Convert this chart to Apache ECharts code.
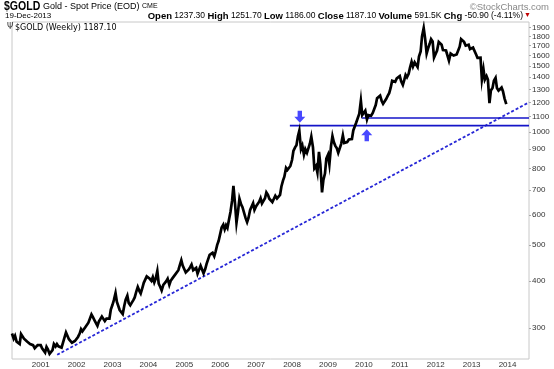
<!DOCTYPE html>
<html><head><meta charset="utf-8">
<script src="https://cdn.jsdelivr.net/npm/echarts@6/dist/echarts.min.js"></script>
<style>html,body{margin:0;padding:0;background:#fff}#c{width:554px;height:369px}</style>
</head><body><div id="c"></div>
<script>
// Half-monthly estimates (1st and 15th of each month) of $GOLD weekly price
const g2000 = [290,281,286,276,274,272,289,291,281,279,276,277,272,273,270,265,267,270,273]; // starts Mar 15
const g2001 = [270,265,264,258,267,263,256,258,262,272,268,272,268,266,266,274,273,292,290,280,279,274,272,277];
const g2002 = [279,284,290,298,294,292,302,303,310,313,326,321,315,318,304,312,313,322,322,313,318,320,318,336];
const g2003 = [346,356,372,352,349,335,331,327,344,357,366,350,345,350,356,362,376,386,377,371,384,396,400,412];
const g2004 = [416,406,401,410,397,406,426,394,386,378,391,393,400,406,391,401,407,404,417,421,428,441,455,440];
const g2005 = [438,422,421,430,436,443,428,430,434,419,420,440,429,420,431,445,446,470,471,476,466,480,500,512];
const g2006 = [518,556,566,550,564,555,586,612,655,718,640,572,614,664,641,630,624,590,575,590,620,626,646,620];
const g2007 = [634,630,652,666,645,650,666,690,680,664,665,650,655,676,665,662,680,716,742,760,802,792,800,812];
const g2008 = [842,890,910,922,975,1008,900,920,870,900,880,890,932,972,910,800,812,780,885,820,690,745,775,850];
const g2009 = [870,820,920,975,940,920,905,880,888,930,980,935,935,940,955,945,958,1010,1000,1060,1050,1120,1212,1110];
const g2010 = [1100,1140,1080,1110,1122,1105,1125,1150,1180,1230,1220,1250,1210,1190,1185,1225,1250,1270,1315,1370,1355,1362,1390,1385];
const g2011 = [1410,1365,1335,1375,1420,1400,1430,1485,1540,1495,1535,1530,1490,1590,1640,1800,1895,1780,1620,1670,1720,1770,1745,1580];
const g2012 = [1570,1650,1740,1725,1710,1655,1665,1650,1655,1550,1620,1620,1600,1590,1610,1615,1690,1770,1780,1740,1700,1720,1710,1665];
const g2013 = [1665,1680,1665,1610,1578,1595,1580,1380,1470,1380,1410,1380,1195,1290,1310,1370,1395,1310,1290,1275,1315,1285,1230];
const lastPoint = ['2013-12-19', 1187.10];

const yTicks = [300,400,500,600,700,800,900,1000,1100,1200,1300,1400,1500,1600,1700,1800,1900];
const yearTicks = ['2001','2002','2003','2004','2005','2006','2007','2008','2009','2010','2011','2012','2013','2014'];

const trendLine = [['2001-06-17', 254.5], ['2014-08-07', 1200]];
const resistLow = [['2007-12-10', 1040], ['2014-08-07', 1040]];
const resistHigh = [['2009-12-11', 1090], ['2014-08-07', 1090]];
const arrowDown = [['2008-03-20', 1099]];
const arrowUp = [['2010-01-30', 981]];

const T = s => Date.UTC(+s.slice(0,4), (+s.slice(5,7) || 1) - 1, +s.slice(8,10) || 1);
const conv = arr => arr.map(([d, v]) => [T(d), v]);

const years = [[2000,g2000,5],[2001,g2001,0],[2002,g2002,0],[2003,g2003,0],[2004,g2004,0],[2005,g2005,0],[2006,g2006,0],[2007,g2007,0],[2008,g2008,0],[2009,g2009,0],[2010,g2010,0],[2011,g2011,0],[2012,g2012,0],[2013,g2013,0]];
const price = [];
years.forEach(([y, arr, off]) => {
  arr.forEach((v, i) => {
    const k = i + off;
    const m = Math.floor(k / 2) + 1;
    const d = k % 2 === 0 ? 1 : 15;
    price.push([y + '-' + String(m).padStart(2,'0') + '-' + String(d).padStart(2,'0'), v]);
  });
});
price.push(lastPoint);

const chart = echarts.init(document.getElementById('c'), null, {renderer:'canvas'});
const F = 'Liberation Sans, Arial, sans-serif';
chart.setOption({
  animation: false,
  backgroundColor: '#fff',
  grid: {left: 12, right: 25, top: 22, bottom: 9, show: true, borderColor: '#c8c8c8', borderWidth: 1},
  xAxis: {
    type: 'value', min: T('2000-03-15'), max: T('2014-08-07'),
    axisLine: {show: false}, axisTick: {show: false}, splitLine: {show: false},
    axisLabel: {
      customValues: yearTicks.map(y => T(y + '-01-01')),
      formatter: v => String(new Date(v).getUTCFullYear()),
      fontSize: 8, color: '#333', fontFamily: F, margin: 2, hideOverlap: false
    }
  },
  yAxis: {
    type: 'log', logBase: 10, min: 248, max: 1966, position: 'right',
    axisLine: {show: false}, splitLine: {show: false},
    axisTick: {show: true, customValues: yTicks, length: 2, lineStyle: {color: '#aaa'}},
    axisLabel: {customValues: yTicks, fontSize: 8, color: '#333', fontFamily: F, margin: 3,
      formatter: v => String(Math.round(v))}
  },
  series: [
    {type: 'line', data: conv(trendLine), symbol: 'none', lineStyle: {color: '#2626d6', width: 1.8, type: [3, 2]}, z: 2},
    {type: 'line', data: conv(resistLow), symbol: 'none', lineStyle: {color: '#1414c8', width: 1.6}, z: 2},
    {type: 'line', data: conv(resistHigh), symbol: 'none', lineStyle: {color: '#1414c8', width: 1.6}, z: 2},
    {type: 'line', data: conv(price), symbol: 'none', lineStyle: {color: '#000', width: 2.7, join: 'miter'}, z: 3},
    {type: 'scatter', data: conv(arrowDown), symbol: 'path://M3,0 L7,0 L7,5 L10,5 L5,10 L0,5 L3,5 Z', symbolSize: [11, 12], itemStyle: {color: '#1a1aff'}, z: 4},
    {type: 'scatter', data: conv(arrowUp), symbol: 'path://M5,0 L10,5 L7,5 L7,10 L3,10 L3,5 L0,5 Z', symbolSize: [11, 12], itemStyle: {color: '#1a1aff'}, z: 4}
  ],
  graphic: [
    {type: 'text', left: 4, top: 1, scaleX: 0.88, style: {text: '$GOLD', font: 'bold 12px ' + F, fill: '#000'}},
    {type: 'text', left: 43, top: 2, style: {text: 'Gold - Spot Price (EOD)', font: '9px ' + F, fill: '#000'}},
    {type: 'text', left: 142, top: 3, style: {text: 'CME', font: '7px ' + F, fill: '#000'}},
    {type: 'text', right: 5, top: 2, style: {text: '©StockCharts.com', font: '9.5px ' + F, fill: '#888'}},
    {type: 'text', left: 5, top: 12, style: {text: '19-Dec-2013', font: '8px ' + F, fill: '#000'}},
    {type: 'text', right: 31, top: 11, style: {
      text: '{b|Open} 1237.30 {b|High} 1251.70 {b|Low} 1186.00 {b|Close} 1187.10 {b|Volume} 591.5K {b|Chg} -50.90 (-4.11%)',
      font: '8.5px ' + F, fill: '#000',
      rich: {b: {fontWeight: 'bold', fontSize: 9.5, fontFamily: F, fill: '#000'}}
    }},
    {type: 'text', left: 524, top: 12, style: {text: '▼', font: '7px ' + F, fill: '#c00000'}},
    {type: 'text', left: 7, top: 23, style: {text: 'Ψ', font: '8px DejaVu Sans', fill: '#333'}},
    {type: 'text', left: 15, top: 24, style: {text: '$GOLD (Weekly) 1187.10', font: '8px DejaVu Sans', fill: '#000'}}
  ]
});
</script></body></html>
